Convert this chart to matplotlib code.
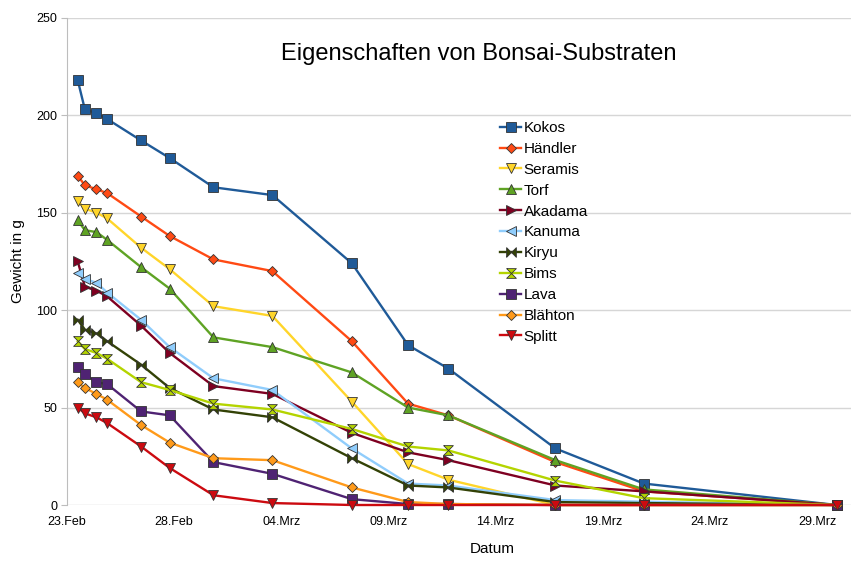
#!/usr/bin/env python3

import numpy as np
import matplotlib
matplotlib.use("Agg")
import matplotlib.pyplot as plt
import matplotlib.dates as mdates
from matplotlib.ticker import FuncFormatter
from datetime import datetime, timedelta

plt.rcParams['font.family'] = ['Liberation Sans', 'DejaVu Sans']

# Messzeitpunkte
zeit = ["2012-02-23 12:00", "2012-02-23 20:00", "2012-02-24 09:00", "2012-02-24 21:00",
        "2012-02-26 11:00", "2012-02-27 19:00", "2012-02-29 20:00", "2012-03-03 14:00",
        "2012-03-07 07:00", "2012-03-09 22:00", "2012-03-11 19:00", "2012-03-16 19:00",
        "2012-03-20 22:00", "2012-03-29 22:00"]

kokos   = [218, 203, 201, 198, 187, 178, 163, 159, 124, 82, 70, 29, 11, 0]
haendler= [169, 164, 162, 160, 148, 138, 126, 120, 84, 52, 46, 22, 7, 0]
seramis = [156, 152, 150, 147, 132, 121, 102, 97, 53, 21, 13, 0, 0, 0]
torf    = [146, 141, 140, 136, 122, 111, 86, 81, 68, 50, 46, 23, 8, 0]
akadama = [125, 112, 110, 107, 92, 78, 61, 57, 37, 27, 23, 10, 7, 0]
kanuma  = [119, 116, 114, 109, 95, 81, 65, 59, 29, 11, 10, 2.5, 1.7, 0]
kiryu   = [95, 90, 88, 84, 72, 60, 49, 45, 24, 10, 9, 1.5, 1, 0]
bims    = [84, 80, 78, 75, 63, 59, 52, 49, 39, 30, 28, 12.5, 3.5, 0]
lava    = [71, 67, 63, 62, 48, 46, 22, 16, 3, 0.5, 0.5, 0, 0, 0]
blaehton= [63, 60, 57, 54, 41, 32, 24, 23, 9, 1.5, 0.5, 0, 0, 0]
splitt  = [50, 47, 45, 42, 30, 19, 5, 1, 0, 0, 0, 0, 0, 0]

namen = ["Kokos", "Händler", "Seramis", "Torf", "Akadama", "Kanuma",
         "Kiryu", "Bims", "Lava", "Blähton", "Splitt"]
werte = [kokos, haendler, seramis, torf, akadama, kanuma,
         kiryu, bims, lava, blaehton, splitt]

farben = ['#1f5a98', '#ff4a14', '#ffd52a', '#5fa324', '#7e0021', '#90cdfc',
          '#334206', '#b4d400', '#4f2373', '#ff9a1a', '#cc0a10']

bowtie = [(-1, -1), (1, 1), (1, -1), (-1, 1), (-1, -1)]
hourglass = [(-1, 1), (1, 1), (-1, -1), (1, -1), (-1, 1)]
marker = ['s', 'D', 'v', '^', '>', '<', bowtie, hourglass, 's', 'D', 'v']
msize = [7, 5, 7, 7, 7, 7, 7, 7, 7, 5, 7]

t = [datetime.strptime(z, "%Y-%m-%d %H:%M") for z in zeit]

W, H = 851, 564
fig = plt.figure(figsize=(W / 100, H / 100), dpi=100)
# Diagrammfläche reicht rechts über den Bildrand hinaus (Ausschnitt)
ax = fig.add_axes([67 / W, (H - 505) / H, 850 / W, (505 - 17.7) / H])

for name, y, c, m, ms in zip(namen, werte, farben, marker, msize):
    ax.plot(t, y, color=c, lw=1.7, marker=m, markersize=ms,
            markerfacecolor=c, markeredgecolor='#333333', markeredgewidth=0.6,
            label=name, clip_on=False)

start = datetime(2012, 2, 23)
ax.set_xlim(start, start + timedelta(days=850 / 21.43))
ax.set_ylim(0, 250)
ax.set_yticks([0, 50, 100, 150, 200, 250])
ticks = [start + timedelta(days=5 * i) for i in range(8)]
ax.set_xticks(mdates.date2num(ticks))

monate = {1: "Jan", 2: "Feb", 3: "Mrz", 4: "Apr"}
def datum_fmt(v, pos):
    d = mdates.num2date(v)
    return f"{d.day:02d}.{monate[d.month]}"
ax.xaxis.set_major_formatter(FuncFormatter(datum_fmt))

ax.grid(axis='y', color='#d6d6d6', lw=1)
ax.set_axisbelow(True)
for s in ['top', 'right', 'bottom']:
    ax.spines[s].set_visible(False)
ax.spines['left'].set_color('#bdbdbd')
ax.tick_params(axis='y', length=4, color='#bdbdbd', labelsize=9, pad=3)
ax.tick_params(axis='x', length=0, labelsize=9, pad=8)

ax.set_xlabel("Datum", fontsize=11, labelpad=10)
ax.set_ylabel("Gewicht in g", fontsize=11, labelpad=8)

fig.text(479 / W, 1 - 54 / H, "Eigenschaften von Bonsai-Substraten",
         fontsize=17, ha='center', va='center')

leg = ax.legend(loc='upper left', bbox_to_anchor=(500 / W, 1 - 121 / H),
                bbox_transform=fig.transFigure, frameon=False, fontsize=11,
                handlelength=1.4, handletextpad=0.15, labelspacing=0.45,
                borderpad=0, borderaxespad=0)

fig.savefig("out.png", dpi=100)
